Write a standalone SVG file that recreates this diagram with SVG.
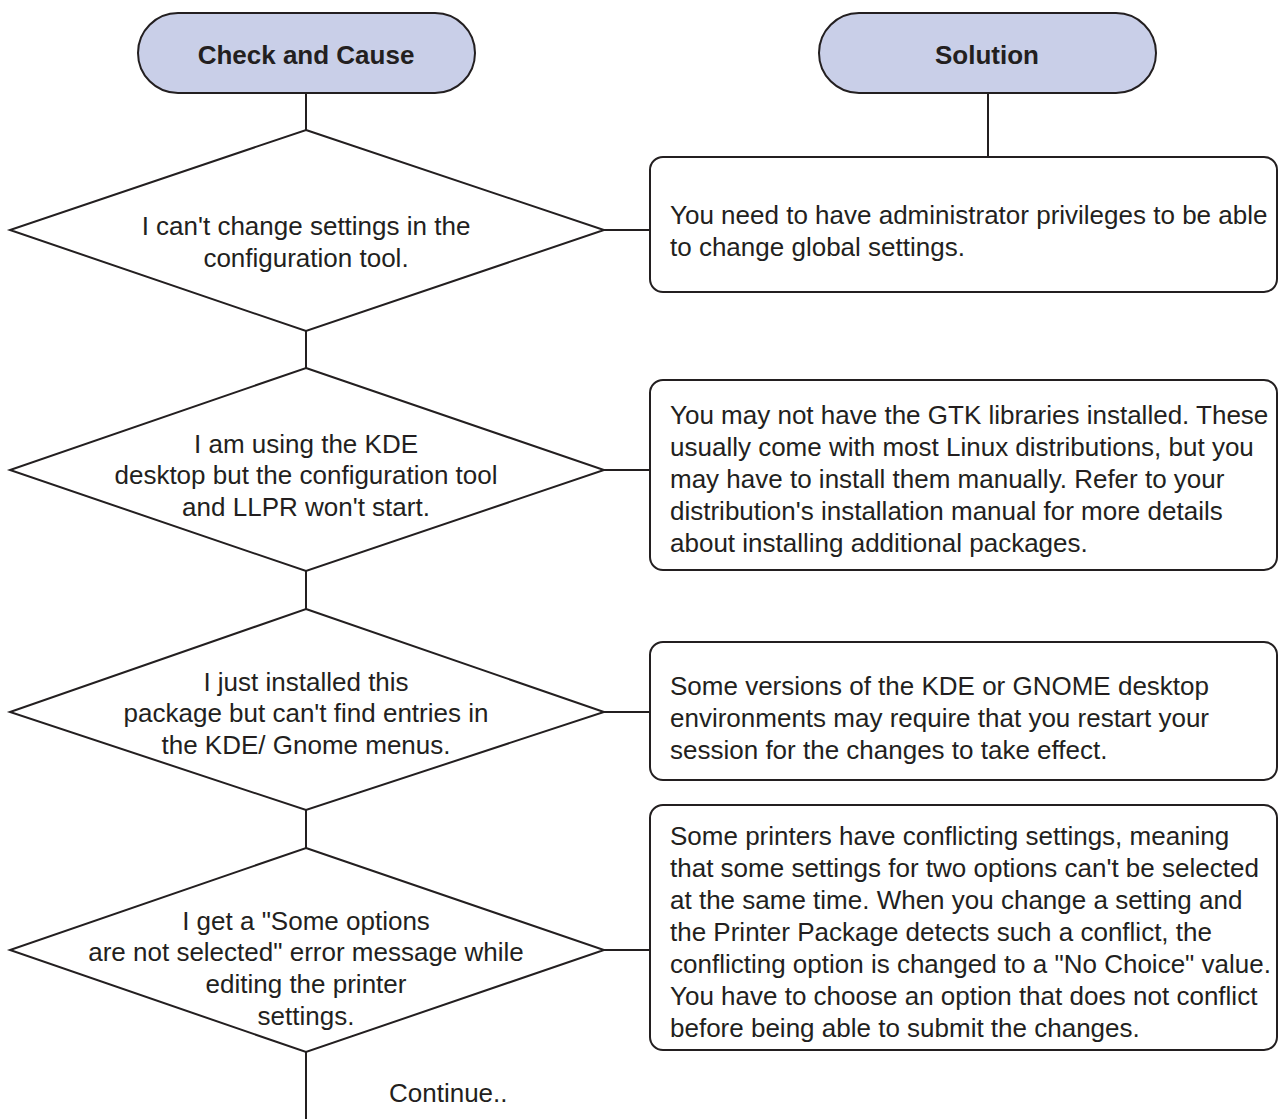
<svg xmlns="http://www.w3.org/2000/svg" width="1278" height="1119" viewBox="0 0 1278 1119">
<style>
.pill{fill:#c9cfe8;stroke:#231f20;stroke-width:2}
.shape{fill:#fff;stroke:#231f20;stroke-width:2}
.ln{stroke:#231f20;stroke-width:2;fill:none}
text{font-family:"Liberation Sans",Arial,sans-serif;font-size:26px;fill:#231f20}
.h{font-weight:bold;text-anchor:middle}
.c{text-anchor:middle}
</style>
<rect width="1278" height="1119" fill="#fff"/>
<g id="connectors">
<line class="ln" x1="306" y1="93" x2="306" y2="130"/>
<line class="ln" x1="988" y1="93" x2="988" y2="157"/>
<line class="ln" x1="306" y1="331" x2="306" y2="368"/>
<line class="ln" x1="306" y1="571" x2="306" y2="609"/>
<line class="ln" x1="306" y1="810" x2="306" y2="848"/>
<line class="ln" x1="306" y1="1052" x2="306" y2="1119"/>
<line class="ln" x1="604" y1="230" x2="650" y2="230"/>
<line class="ln" x1="604" y1="470" x2="650" y2="470"/>
<line class="ln" x1="604" y1="712" x2="650" y2="712"/>
<line class="ln" x1="604" y1="950" x2="650" y2="950"/>
</g>
<g id="header-check">
<rect class="pill" x="138" y="13" width="337" height="80" rx="40"/>
<text class="h" x="306" y="64">Check and Cause</text>
</g>
<g id="header-solution">
<rect class="pill" x="819" y="13" width="337" height="80" rx="40"/>
<text class="h" x="987" y="64">Solution</text>
</g>
<g id="d1">
<polygon class="shape" points="306,130 604,230 306,331 10,230"/>
<text class="c" x="306" y="235">I can't change settings in the</text>
<text class="c" x="306" y="267">configuration tool.</text>
</g>
<g id="s1">
<rect class="shape" x="650" y="157" width="627" height="135" rx="13"/>
<text x="670" y="224">You need to have administrator privileges to be able</text>
<text x="670" y="256">to change global settings.</text>
</g>
<g id="d2">
<polygon class="shape" points="306,368 604,470 306,571 10,470"/>
<text class="c" x="306" y="453">I am using the KDE</text>
<text class="c" x="306" y="484">desktop but the configuration tool</text>
<text class="c" x="306" y="516">and LLPR won't start.</text>
</g>
<g id="s2">
<rect class="shape" x="650" y="380" width="627" height="190" rx="13"/>
<text x="670" y="424">You may not have the GTK libraries installed. These</text>
<text x="670" y="456">usually come with most Linux distributions, but you</text>
<text x="670" y="488">may have to install them manually. Refer to your</text>
<text x="670" y="520">distribution's installation manual for more details</text>
<text x="670" y="552">about installing additional packages.</text>
</g>
<g id="d3">
<polygon class="shape" points="306,609 604,712 306,810 10,712"/>
<text class="c" x="306" y="691">I just installed this</text>
<text class="c" x="306" y="722">package but can't find entries in</text>
<text class="c" x="306" y="754">the KDE/ Gnome menus.</text>
</g>
<g id="s3">
<rect class="shape" x="650" y="642" width="627" height="138" rx="13"/>
<text x="670" y="695">Some versions of the KDE or GNOME desktop</text>
<text x="670" y="727">environments may require that you restart your</text>
<text x="670" y="759">session for the changes to take effect.</text>
</g>
<g id="d4">
<polygon class="shape" points="306,848 604,950 306,1052 10,950"/>
<text class="c" x="306" y="930">I get a "Some options</text>
<text class="c" x="306" y="961">are not selected" error message while</text>
<text class="c" x="306" y="993">editing the printer</text>
<text class="c" x="306" y="1025">settings.</text>
</g>
<g id="s4">
<rect class="shape" x="650" y="805" width="627" height="245" rx="13"/>
<text x="670" y="845">Some printers have conflicting settings, meaning</text>
<text x="670" y="877">that some settings for two options can't be selected</text>
<text x="670" y="909">at the same time. When you change a setting and</text>
<text x="670" y="941">the Printer Package detects such a conflict, the</text>
<text x="670" y="973">conflicting option is changed to a "No Choice" value.</text>
<text x="670" y="1005">You have to choose an option that does not conflict</text>
<text x="670" y="1037">before being able to submit the changes.</text>
</g>
<g id="continue">
<text x="389" y="1102">Continue..</text>
</g>
</svg>
